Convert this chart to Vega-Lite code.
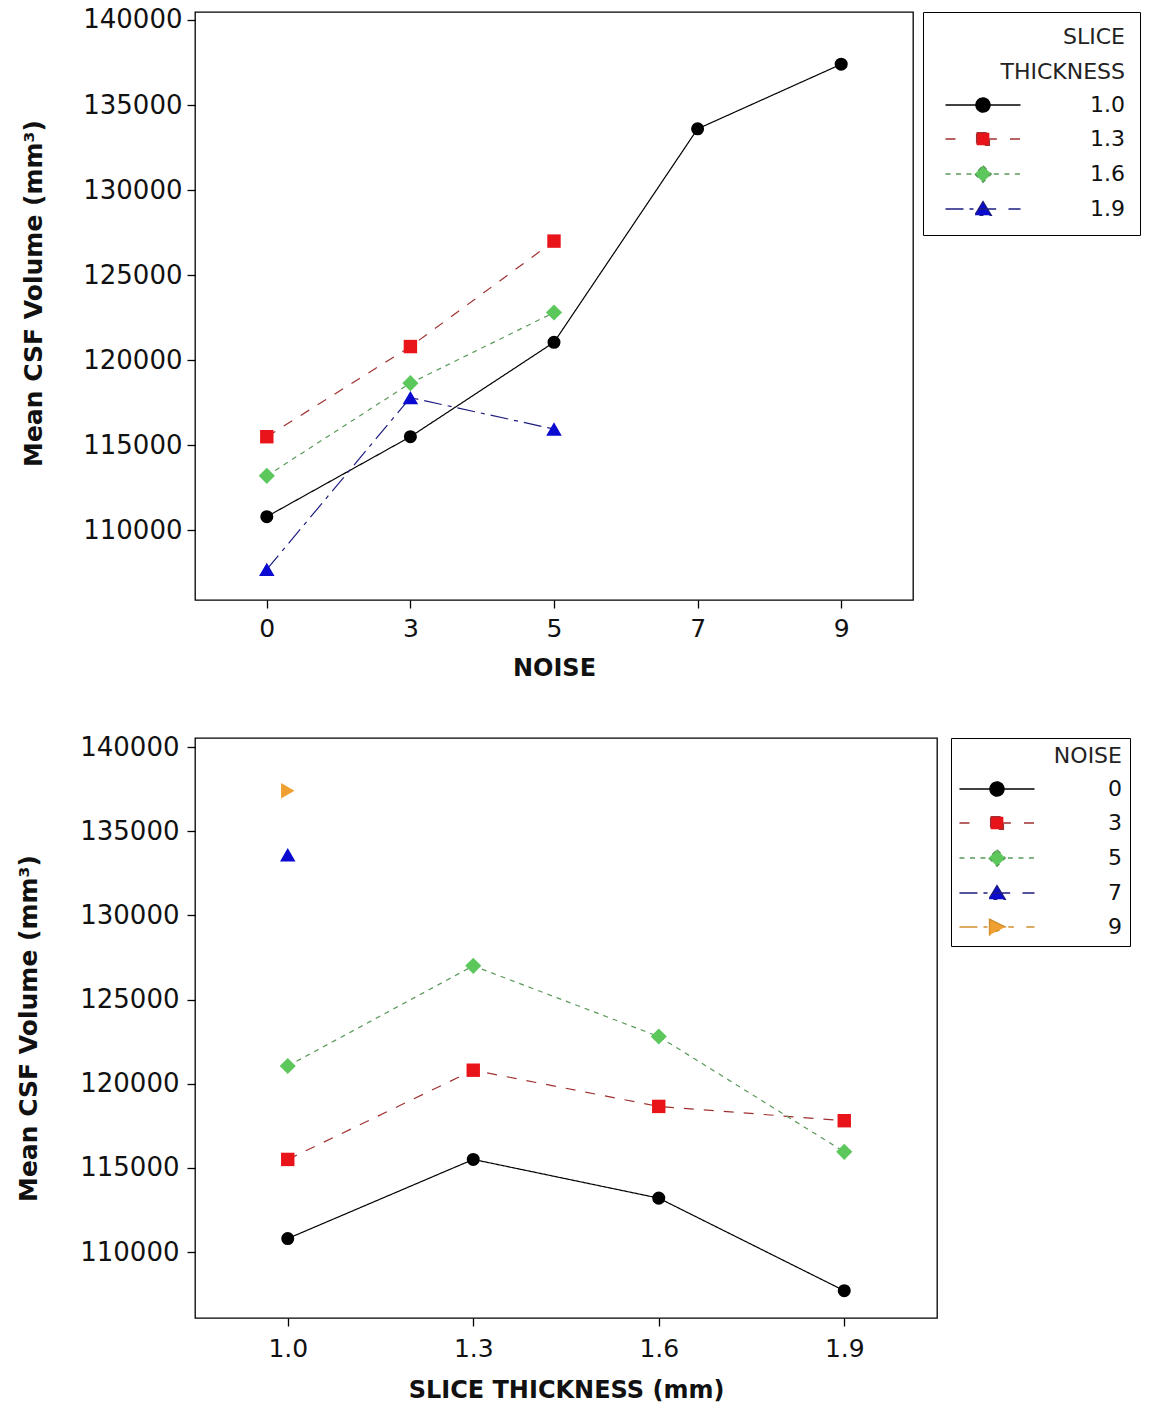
{
  "$schema": "https://vega.github.io/schema/vega-lite/v6.json",
  "background": "white",
  "padding": {"top": 6, "left": 16, "right": 5, "bottom": 5},
  "config": {
    "font": "DejaVu Sans",
    "view": {"stroke": "black", "strokeWidth": 1.3},
    "axis": {"grid": false, "domain": false, "tickColor": "black", "tickSize": 8, "tickWidth": 1.3, "labelFont": "DejaVu Sans", "labelFontSize": 25, "labelColor": "#111111", "titleFont": "DejaVu Sans", "titleFontSize": 24, "titleFontWeight": "bold", "titleColor": "#111111"},
    "legend": {"strokeColor": "black", "cornerRadius": 0, "titleAnchor": "end", "titleAlign": "right", "titleFont": "DejaVu Sans", "titleFontSize": 22, "titleFontWeight": "normal", "titleLineHeight": 35, "titlePadding": 10, "titleColor": "#222222", "labelFont": "DejaVu Sans", "labelFontSize": 22, "labelAlign": "right", "labelColor": "#111111", "symbolSize": 196, "symbolStrokeWidth": 1.4, "rowPadding": 12}
  },
  "datasets": {
    "cells": [
      {"slice": "1.0", "noise": "0", "volume": 110800},
      {"slice": "1.0", "noise": "3", "volume": 115500},
      {"slice": "1.0", "noise": "5", "volume": 121050},
      {"slice": "1.0", "noise": "7", "volume": 133600},
      {"slice": "1.0", "noise": "9", "volume": 137400},
      {"slice": "1.3", "noise": "0", "volume": 115500},
      {"slice": "1.3", "noise": "3", "volume": 120800},
      {"slice": "1.3", "noise": "5", "volume": 127000},
      {"slice": "1.6", "noise": "0", "volume": 113200},
      {"slice": "1.6", "noise": "3", "volume": 118650},
      {"slice": "1.6", "noise": "5", "volume": 122800},
      {"slice": "1.9", "noise": "0", "volume": 107700},
      {"slice": "1.9", "noise": "3", "volume": 117800},
      {"slice": "1.9", "noise": "5", "volume": 115950}
    ]
  },
  "spacing": 52,
  "resolve": {"scale": {"color": "independent", "stroke": "independent", "shape": "independent", "strokeDash": "independent", "x": "independent", "y": "independent"}, "legend": {"color": "independent", "stroke": "independent", "shape": "independent"}},
  "vconcat": [
    {
      "width": 718,
      "height": 588,
      "data": {"name": "cells"},
      "encoding": {
        "x": {"field": "noise", "type": "ordinal", "sort": ["0", "3", "5", "7", "9"], "title": "NOISE", "axis": {"labelAngle": 0, "labelPadding": 8, "titlePadding": 15}},
        "y": {"field": "volume", "type": "quantitative", "scale": {"domain": [105900, 140470], "nice": false, "zero": false}, "axis": {"values": [110000, 115000, 120000, 125000, 130000, 135000, 140000], "format": "d", "title": "Mean CSF Volume (mm³)", "labelPadding": 5, "titlePadding": 36, "titleFontSize": 25, "labelFontSize": 26, "titleY": 281}},
        "color": {
          "field": "slice", "type": "nominal",
          "scale": {"domain": ["1.0", "1.3", "1.6", "1.9"], "range": ["#000000", "#e8141a", "#5cc85c", "#0a0ad0"]},
          "legend": {"title": ["SLICE", "THICKNESS"], "orient": "right", "offset": 10, "padding": 15, "symbolOffset": 34, "labelOffset": 131}
        }
      },
      "layer": [
        {
          "mark": {"type": "line", "strokeWidth": 1.2},
          "encoding": {
            "stroke": {"field": "slice", "type": "nominal", "scale": {"domain": ["1.0", "1.3", "1.6", "1.9"], "range": ["#000000", "#a03030", "#5a9a5a", "#1c1c80"]}, "legend": {"title": ["SLICE", "THICKNESS"], "orient": "right", "offset": 10, "padding": 15, "symbolOffset": 34, "labelOffset": 131}},
            "strokeDash": {"field": "slice", "type": "nominal", "scale": {"domain": ["1.0", "1.3", "1.6", "1.9"], "range": [[1, 0], [10, 10], [5, 5], [18, 6, 4, 6]]}, "legend": null}
          }
        },
        {"transform": [{"filter": "datum.slice === '1.0'"}], "mark": {"type": "point", "shape": "circle", "filled": true, "opacity": 1, "size": 170}},
        {"transform": [{"filter": "datum.slice === '1.3'"}], "mark": {"type": "point", "shape": "square", "filled": true, "opacity": 1, "size": 180}},
        {"transform": [{"filter": "datum.slice === '1.6'"}], "mark": {"type": "point", "shape": "diamond", "filled": true, "opacity": 1, "size": 260}},
        {"transform": [{"filter": "datum.slice === '1.9'"}], "mark": {"type": "point", "shape": "triangle-up", "filled": true, "opacity": 1, "size": 240}},
        {
          "transform": [{"filter": "datum.volume < 0"}],
          "mark": {"type": "point", "filled": true, "opacity": 1, "size": 196},
          "encoding": {
            "shape": {"field": "slice", "type": "nominal", "scale": {"domain": ["1.0", "1.3", "1.6", "1.9"], "range": [
              "M -5.36 0 H 5.36 M -1 0 A 1 1 0 1 0 1 0 A 1 1 0 1 0 -1 0 Z",
              "M -5.36 0 H -2.84 M 0.8 0 H 1.98 M 3.86 0 H 5.36 M -0.91 -0.91 H 0.91 V 0.91 H -0.91 Z",
              "M -5.36 0 H -4.56 M -3.86 0 H -3.06 M -2.36 0 H -1.55 M 1.55 0 H 2.36 M 3.06 0 H 3.86 M 4.56 0 H 5.36 M 0 -1.18 L 1.18 0 L 0 1.18 L -1.18 0 Z",
              "M -5.36 0 H 1.88 M 3.64 0 H 5.36 M 0 -1.07 L 1.18 0.91 L -1.18 0.91 Z"
            ]}, "legend": {"title": ["SLICE", "THICKNESS"], "orient": "right", "offset": 10, "padding": 15, "symbolOffset": 34, "labelOffset": 131}}
          }
        }
      ]
    },
    {
      "width": 742,
      "height": 580,
      "data": {"name": "cells"},
      "encoding": {
        "x": {"field": "slice", "type": "ordinal", "sort": ["1.0", "1.3", "1.6", "1.9"], "title": "SLICE THICKNESS (mm)", "axis": {"labelAngle": 0, "labelPadding": 10, "titlePadding": 17}},
        "y": {"field": "volume", "type": "quantitative", "scale": {"domain": [106080, 140535], "nice": false, "zero": false}, "axis": {"values": [110000, 115000, 120000, 125000, 130000, 135000, 140000], "format": "d", "title": "Mean CSF Volume (mm³)", "labelPadding": 8, "titlePadding": 38, "titleFontSize": 25, "labelFontSize": 26}},
        "color": {
          "field": "noise", "type": "nominal",
          "scale": {"domain": ["0", "3", "5", "7", "9"], "range": ["#000000", "#e8141a", "#5cc85c", "#0a0ad0", "#f0a030"]},
          "legend": {"title": "NOISE", "orient": "right", "offset": 14, "padding": 8, "symbolOffset": 27, "labelOffset": 114}
        }
      },
      "layer": [
        {
          "mark": {"type": "line", "strokeWidth": 1.2},
          "encoding": {
            "stroke": {"field": "noise", "type": "nominal", "scale": {"domain": ["0", "3", "5", "7", "9"], "range": ["#000000", "#a03030", "#5a9a5a", "#1c1c80", "#d09030"]}, "legend": {"title": "NOISE", "orient": "right", "offset": 14, "padding": 8, "symbolOffset": 27, "labelOffset": 114}},
            "strokeDash": {"field": "noise", "type": "nominal", "scale": {"domain": ["0", "3", "5", "7", "9"], "range": [[1, 0], [10, 10], [5, 5], [18, 6, 4, 6], [18, 6, 4, 6]]}, "legend": null}
          }
        },
        {"transform": [{"filter": "datum.noise === '0'"}], "mark": {"type": "point", "shape": "circle", "filled": true, "opacity": 1, "size": 170}},
        {"transform": [{"filter": "datum.noise === '3'"}], "mark": {"type": "point", "shape": "square", "filled": true, "opacity": 1, "size": 180}},
        {"transform": [{"filter": "datum.noise === '5'"}], "mark": {"type": "point", "shape": "diamond", "filled": true, "opacity": 1, "size": 260}},
        {"transform": [{"filter": "datum.noise === '7'"}], "mark": {"type": "point", "shape": "triangle-up", "filled": true, "opacity": 1, "size": 240}},
        {"transform": [{"filter": "datum.noise === '9'"}], "mark": {"type": "point", "shape": "triangle-right", "filled": true, "opacity": 1, "size": 240}},
        {
          "transform": [{"filter": "datum.volume < 0"}],
          "mark": {"type": "point", "filled": true, "opacity": 1, "size": 196},
          "encoding": {
            "shape": {"field": "noise", "type": "nominal", "scale": {"domain": ["0", "3", "5", "7", "9"], "range": [
              "M -5.36 0 H 5.36 M -1 0 A 1 1 0 1 0 1 0 A 1 1 0 1 0 -1 0 Z",
              "M -5.36 0 H -2.84 M 0.8 0 H 1.98 M 3.86 0 H 5.36 M -0.91 -0.91 H 0.91 V 0.91 H -0.91 Z",
              "M -5.36 0 H -4.56 M -3.86 0 H -3.06 M -2.36 0 H -1.55 M 1.55 0 H 2.36 M 3.06 0 H 3.86 M 4.56 0 H 5.36 M 0 -1.18 L 1.18 0 L 0 1.18 L -1.18 0 Z",
              "M -5.36 0 H 1.88 M 3.64 0 H 5.36 M 0 -1.07 L 1.18 0.91 L -1.18 0.91 Z",
              "M -5.36 0 H -0.54 M 1.61 0 H 2.41 M 4.18 0 H 5.36 M -1.07 -1.13 L 1.18 0 L -1.07 1.13 Z"
            ]}, "legend": {"title": "NOISE", "orient": "right", "offset": 14, "padding": 8, "symbolOffset": 27, "labelOffset": 114}}
          }
        }
      ]
    }
  ]
}
